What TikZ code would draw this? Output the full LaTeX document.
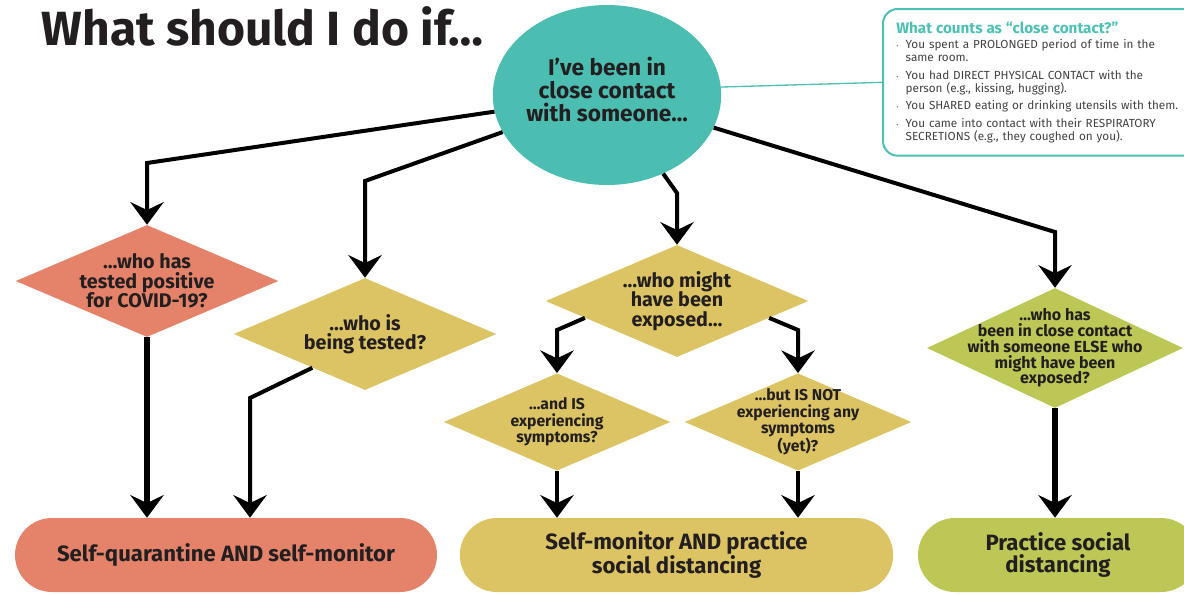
\documentclass[tikz,border=0pt]{standalone}
\usepackage{fontspec}
\setmainfont{Fira Sans}
\usetikzlibrary{shapes.geometric,shapes.misc,arrows.meta,calc}

\definecolor{ink}{HTML}{231F20}
\definecolor{contactteal}{HTML}{4CBDB1}
\definecolor{infoteal}{HTML}{4CC0B5}
\definecolor{riskorange}{HTML}{E5836A}
\definecolor{waityellow}{HTML}{DCC464}
\definecolor{lowgreen}{HTML}{BDC755}
\newcommand{\infopt}{\makebox[7pt][l]{\textcolor{riskorange!70!ink}{\tiny\textbullet}}}

\begin{document}
\begin{tikzpicture}[x=0.75pt,y=-0.75pt,
  decision/.style={diamond,inner sep=-25pt,align=center,text=ink,
    minimum width=197pt,minimum height=84pt,
    font=\bfseries\fontsize{14.8}{14.6}\selectfont},
  smalldecision/.style={decision,minimum width=170pt,minimum height=73pt,
    font=\bfseries\fontsize{11.8}{12.4}\selectfont},
  outcome/.style={rounded rectangle,inner sep=0pt,align=center,text=ink,
    minimum height=55.5pt,font=\bfseries\fontsize{16.6}{16.5}\selectfont},
  flow/.style={draw=black,line width=3pt,-{Stealth[length=17pt,width=25pt,inset=6pt]}},
  heavyflow/.style={flow,line width=4.5pt}]
\useasboundingbox (0,0) rectangle (1184,594);

\node[anchor=base west,text=ink,font=\bfseries\fontsize{36}{40}\selectfont] (title) at (37,45) {What should I do if…};

\node[ellipse,fill=contactteal,minimum width=165pt,minimum height=135pt,inner sep=0pt,
  text depth=9pt,align=center,text=ink,font=\bfseries\fontsize{17}{17.25}\selectfont] (contact) at (607,95)
  {I’ve been in\\close contact\\with someone…};

\node[draw=infoteal,line width=1.5pt,rounded corners=11pt,anchor=north west,
  minimum width=238.5pt,minimum height=110pt,text width=219pt,inner xsep=10pt,
  align=left,text=ink!85,font=\fontsize{8.8}{9.75}\selectfont] (info) at (882,8) {%
  {\color{infoteal}\bfseries\fontsize{11.4}{12}\selectfont What counts as “close contact?”}\\[1.5pt]
  \infopt You spent a PROLONGED period of time in the\\
  \hspace*{7pt}same room.\\[3.3pt]
  \infopt You had DIRECT PHYSICAL CONTACT with the\\
  \hspace*{7pt}person (e.g., kissing, hugging).\\[3.3pt]
  \infopt You SHARED eating or drinking utensils with them.\\[3.3pt]
  \infopt You came into contact with their RESPIRATORY\\
  \hspace*{7pt}SECRETIONS (e.g., they coughed on you).};

\node[decision,fill=riskorange] (pos) at (147,281)
  {…who has\\tested positive\\for COVID-19?};
\node[decision,fill=waityellow] (test) at (365,334)
  {…who is\\being tested?};
\node[decision,fill=waityellow] (expo) at (677,301)
  {…who might\\have been\\exposed…};
\node[smalldecision,fill=waityellow] (sympt) at (557,422)
  {…and IS\\experiencing\\symptoms?};
\node[smalldecision,fill=waityellow] (nosym) at (798,422)
  {…but IS NOT\\experiencing any\\symptoms\\(yet)?};
\node[decision,fill=lowgreen,minimum width=192pt,minimum height=83pt,
  font=\bfseries\fontsize{12}{11.8}\selectfont] (else) at (1055,348)
  {…who has\\been in close contact\\with someone ELSE who\\might have been\\exposed?};

\node[outcome,fill=riskorange,minimum width=316.5pt] (quar) at (226,555)
  {Self-quarantine AND self-monitor};
\node[outcome,fill=waityellow,minimum width=325pt] (mon) at (676.5,555)
  {Self-monitor AND practice\\social distancing};
\node[outcome,fill=lowgreen,minimum width=210pt] (soc) at (1058,555)
  {Practice social\\distancing};

\coordinate (c1) at (147,163);
\coordinate (c2) at (365,181);
\coordinate (c3) at (677,193);
\coordinate (c4) at (1055,232);
\coordinate (c5) at (250,398);
\coordinate (c6) at (557,330);
\coordinate (c7) at (798,330);

\draw[infoteal,line width=1pt] (contact.4) -- (info.west);

\draw[flow] (contact) -- (c1) -- (pos.north);
\draw[flow] (contact) -- (c2) -- (test.north);
\draw[flow] (contact) -- (c3) -- (expo.north);
\draw[flow] (contact) -- (c4) -- (else.north);

\draw[heavyflow] (pos.south) -- (pos.south |- quar.north);
\draw[flow] ($(test.west)!0.6!(test.south)$) -- (c5) -- (c5 |- quar.north);
\draw[flow] ($(expo.west)!0.3!(expo.south)$) -- (c6) -- (sympt.north);
\draw[flow] ($(expo.east)!0.3!(expo.south)$) -- (c7) -- (nosym.north);
\draw[flow] (sympt.south) -- (sympt.south |- mon.north);
\draw[flow] (nosym.south) -- (nosym.south |- mon.north);
\draw[heavyflow] (else.south) -- (else.south |- soc.north);
\end{tikzpicture}
\end{document}
